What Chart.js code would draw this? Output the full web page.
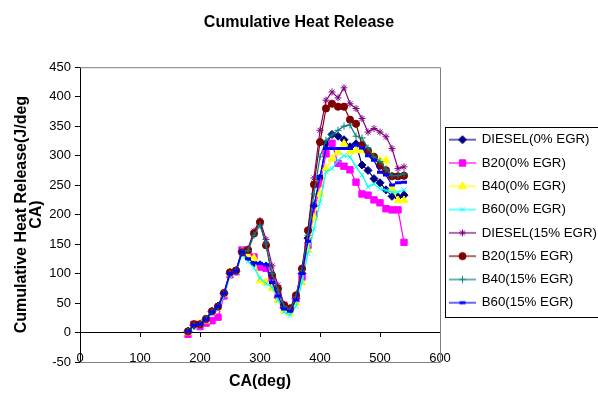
<!DOCTYPE html>
<html>
<head>
<meta charset="utf-8">
<script src="https://cdn.jsdelivr.net/npm/chart.js@4.4.1/dist/chart.umd.min.js"></script>
<style>
  html, body { margin: 0; padding: 0; background: #fff; }
</style>
</head>
<body>
<canvas id="chart" width="598" height="399"></canvas>
<script>
// crank angle (deg) for every sample
const crankAngle = [180, 190, 200, 210, 220, 230, 240, 250, 260, 270, 280, 290, 300, 310, 320, 330, 340, 350, 360,
    370, 380, 390, 400, 410, 420, 430, 440, 450, 460, 470, 480, 490, 500, 510, 520, 530, 540];

// cumulative heat release (J/deg CA)
const diesel0 = [2, 12, 14, 22, 36, 45, 66, 100, 104, 137, 128, 118, 115, 113, 85, 60, 42, 38, 58,
    100, 160, 215, 262, 320, 336, 333, 327, 315, 320, 284, 275, 261, 254, 242, 231, 230, 233];
const b20_0 = [-3, 14, 10, 16, 20, 26, 62, 98, 103, 140, 138, 128, 111, 109, 88, 63, 46, 40, 57,
    94, 148, 201, 252, 303, 321, 287, 282, 276, 255, 235, 233, 225, 220, 210, 208, 208, 153];
const b40_0 = [0, 12, 15, 20, 35, 42, 65, 100, 104, 138, 130, 126, 88, 85, 75, 55, 38, 33, 50,
    85, 140, 195, 235, 278, 295, 306, 320, 307, 309, 309, 305, 300, 292, 292, 244, 224, 224];
const b60_0 = [0, 10, 12, 20, 32, 40, 62, 96, 102, 132, 120, 110, 92, 83, 77, 55, 35, 29, 45,
    85, 134, 176, 221, 272, 278, 292, 300, 298, 281, 267, 247, 252, 244, 241, 238, 238, 242];
const diesel15 = [3, 13, 15, 24, 37, 45, 68, 103, 106, 139, 142, 172, 190, 158, 113, 80, 48, 40, 60,
    110, 175, 262, 343, 394, 408, 398, 415, 388, 380, 363, 340, 346, 340, 332, 312, 278, 281];
const b20_15 = [2, 14, 14, 23, 36, 44, 67, 102, 105, 136, 140, 168, 187, 148, 97, 74, 46, 41, 63,
    108, 173, 251, 323, 380, 388, 383, 383, 361, 354, 318, 308, 298, 283, 275, 265, 265, 266];
const b40_15 = [2, 13, 14, 23, 36, 44, 66, 101, 104, 137, 139, 165, 182, 150, 100, 72, 44, 38, 60,
    105, 165, 235, 298, 326, 335, 343, 350, 352, 333, 330, 313, 298, 290, 277, 266, 266, 269];
const b60_15 = [2, 12, 14, 22, 35, 44, 66, 100, 104, 137, 125, 118, 117, 115, 85, 62, 40, 36, 55,
    100, 155, 215, 265, 312, 312, 312, 312, 312, 318, 313, 300, 292, 272, 267, 250, 254, 255];

const seriesNames = ['DIESEL(0% EGR)', 'B20(0% EGR)', 'B40(0% EGR)', 'B60(0% EGR)',
    'DIESEL(15% EGR)', 'B20(15% EGR)', 'B40(15% EGR)', 'B60(15% EGR)'];
const seriesValues = [diesel0, b20_0, b40_0, b60_0, diesel15, b20_15, b40_15, b60_15];
const seriesColors = ['#000080', '#ff00ff', '#ffff00', '#00ffff', '#800080', '#800000', '#008080', '#0000ff'];
const seriesMarkers = ['rectRot', 'rect', 'triangle', 'crossRot', 'star', 'circle', 'cross', 'line'];
const seriesRadius = [4, 4.5, 4.5, 3.5, 3.5, 3.6, 3.5, 3];

Chart.defaults.font.family = "'Liberation Sans', Arial, sans-serif";
Chart.defaults.color = '#000';

// little line + marker picture for each legend entry
function legendIcon(i) {
    const c = document.createElement('canvas');
    c.width = 27;
    c.height = 12;
    const g = c.getContext('2d');
    g.strokeStyle = seriesColors[i];
    g.fillStyle = seriesColors[i];
    g.lineWidth = 1.2;
    g.beginPath();
    g.moveTo(0, 6);
    g.lineTo(27, 6);
    g.stroke();
    g.lineWidth = i === 7 ? 3 : 1;
    Chart.helpers.drawPoint(g, {
        pointStyle: seriesMarkers[i], radius: seriesRadius[i], rotation: 0, borderWidth: g.lineWidth
    }, 13.5, 6);
    return c;
}

const datasets = seriesNames.map((name, i) => ({
    label: name,
    data: crankAngle.map((ca, k) => ({ x: ca, y: seriesValues[i][k] })),
    borderColor: seriesColors[i],
    backgroundColor: seriesColors[i],
    borderWidth: 1.2,
    pointStyle: seriesMarkers[i],
    pointRadius: seriesRadius[i],
    pointBorderWidth: i === 7 ? 3 : 1,
    tension: 0,
    order: seriesNames.length - i
}));

// grey frame of the plot area (top, right, bottom)
const plotFrame = {
    id: 'plotFrame',
    beforeDatasetsDraw(chart) {
        const { ctx, chartArea: a } = chart;
        ctx.save();
        ctx.strokeStyle = '#808080';
        ctx.lineWidth = 1;
        ctx.beginPath();
        ctx.moveTo(a.left, a.top + 0.5);
        ctx.lineTo(a.right + 0.5, a.top + 0.5);
        ctx.lineTo(a.right + 0.5, a.bottom + 0.5);
        ctx.lineTo(a.left, a.bottom + 0.5);
        ctx.stroke();
        ctx.restore();
    }
};

// black box round the legend
const legendFrame = {
    id: 'legendFrame',
    afterDraw(chart) {
        const boxes = chart.legend.legendHitBoxes;
        if (!boxes || !boxes.length) return;
        const first = boxes[0], last = boxes[boxes.length - 1];
        const ctx = chart.ctx;
        ctx.save();
        ctx.strokeStyle = '#000';
        ctx.lineWidth = 1;
        const x = Math.round(first.left - 5) + 0.5;
        const y = Math.round(first.top - 6) + 0.5;
        const h = Math.round(last.top + last.height + 8 - y);
        ctx.strokeRect(x, y, chart.width + 5 - x, h);
        ctx.restore();
    }
};

new Chart(document.getElementById('chart'), {
    type: 'line',
    data: { datasets },
    options: {
        responsive: false,
        animation: false,
        layout: { padding: { left: 0, right: 0, top: 0, bottom: 4 } },
        plugins: {
            title: {
                display: true,
                text: 'Cumulative Heat Release',
                font: { size: 16, weight: 'bold' },
                padding: { top: 13, bottom: 35 }
            },
            legend: {
                position: 'right',
                fullSize: false,
                maxWidth: 158,
                title: { display: true, text: ' ', font: { size: 1 }, padding: 6 },
                labels: {
                    usePointStyle: true,
                    pointStyleWidth: 25,
                    boxHeight: 12,
                    padding: 10,
                    font: { size: 13.3 },
                    generateLabels: chart => chart.data.datasets.map((ds, i) => ({
                        text: ds.label,
                        pointStyle: legendIcon(i),
                        datasetIndex: i,
                        hidden: false,
                        lineWidth: 0,
                        fillStyle: ds.borderColor,
                        strokeStyle: ds.borderColor,
                        fontColor: '#000'
                    }))
                }
            },
            tooltip: { enabled: false }
        },
        scales: {
            x: {
                type: 'linear',
                min: 0,
                max: 600,
                position: { y: 0 },
                ticks: { stepSize: 100, font: { size: 13 }, padding: 14 },
                grid: { drawOnChartArea: false, drawTicks: true, tickLength: 4, color: '#000' },
                border: { color: '#000', width: 1 }
            },
            xTitle: {
                type: 'linear',
                axis: 'x',
                position: 'bottom',
                min: 0,
                max: 600,
                ticks: { display: false },
                grid: { display: false, drawTicks: false },
                border: { display: false },
                title: {
                    display: true,
                    text: 'CA(deg)',
                    font: { size: 16, weight: 'bold' },
                    padding: { top: 10.4, bottom: 3.4 }
                }
            },
            y: {
                min: -50,
                max: 450,
                ticks: { stepSize: 50, font: { size: 13 }, padding: 4 },
                grid: { drawOnChartArea: false, drawTicks: true, tickLength: 5, color: '#000' },
                border: { color: '#000', width: 1 },
                title: {
                    display: true,
                    text: ['Cumulative Heat Release(J/deg', 'CA)'],
                    font: { size: 16, weight: 'bold', lineHeight: 0.9 },
                    padding: { top: 14.8, bottom: 2 }
                },
                afterFit(scale) { scale.width = 80; }
            }
        }
    },
    plugins: [plotFrame, legendFrame]
});
</script>
</body>
</html>
